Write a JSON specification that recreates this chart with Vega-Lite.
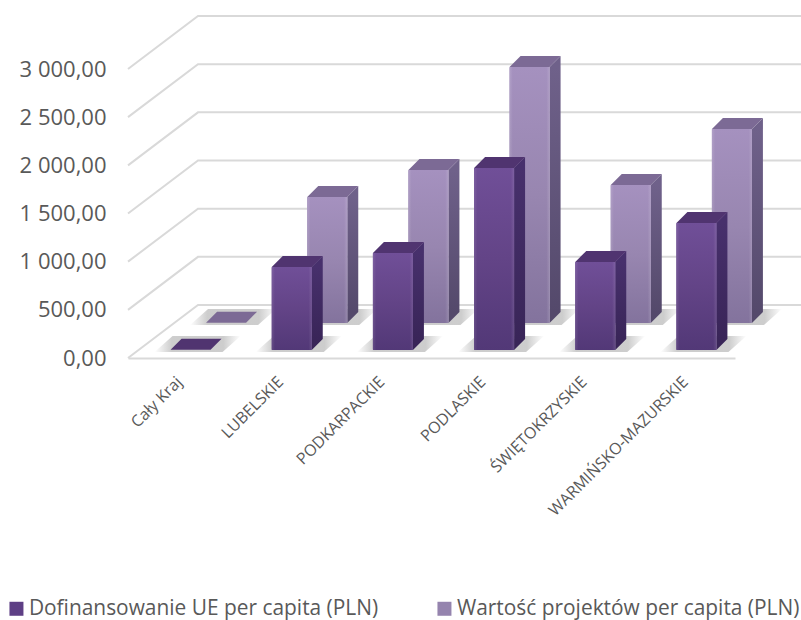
{
"$schema":"https://vega.github.io/schema/vega-lite/v6.json",
"autosize":{"type":"none"},
"padding":{"left":128,"top":69,"right":66,"bottom":262},
"width":607,"height":289,
"background":"#ffffff",
"config":{"view":{"stroke":null},"font":"Open Sans"},
"data":{"values":[
{"Region":"Cały Kraj","Seria":"Dofinansowanie UE per capita (PLN)","value":3},
{"Region":"LUBELSKIE","Seria":"Dofinansowanie UE per capita (PLN)","value":862},
{"Region":"PODKARPACKIE","Seria":"Dofinansowanie UE per capita (PLN)","value":1007},
{"Region":"PODLASKIE","Seria":"Dofinansowanie UE per capita (PLN)","value":1890},
{"Region":"ŚWIĘTOKRZYSKIE","Seria":"Dofinansowanie UE per capita (PLN)","value":914},
{"Region":"WARMIŃSKO-MAZURSKIE","Seria":"Dofinansowanie UE per capita (PLN)","value":1319},
{"Region":"Cały Kraj","Seria":"Wartość projektów per capita (PLN)","value":3},
{"Region":"LUBELSKIE","Seria":"Wartość projektów per capita (PLN)","value":1308},
{"Region":"PODKARPACKIE","Seria":"Wartość projektów per capita (PLN)","value":1589},
{"Region":"PODLASKIE","Seria":"Wartość projektów per capita (PLN)","value":2658},
{"Region":"ŚWIĘTOKRZYSKIE","Seria":"Wartość projektów per capita (PLN)","value":1433},
{"Region":"WARMIŃSKO-MAZURSKIE","Seria":"Wartość projektów per capita (PLN)","value":2015}
]},
"encoding":{
"x":{"field":"Region","type":"nominal","sort":null,"title":null,
"scale":{"type":"band","paddingInner":0,"paddingOuter":0,"domain":["Cały Kraj","LUBELSKIE","PODKARPACKIE","PODLASKIE","ŚWIĘTOKRZYSKIE","WARMIŃSKO-MAZURSKIE"]},
"axis":{"labelAngle":-45,"labelAlign":"right","labelBaseline":"middle","labelFontSize":16,"labelColor":"#595959","labelPadding":21,"labelOffset":1,"ticks":false,"domainColor":"#d9d9d9","domainWidth":2,"grid":false,"labelLimit":400}},
"y":{"field":"value","type":"quantitative","title":null,"stack":null,
"scale":{"domain":[0,3000],"nice":false},
"axis":{"values":[0,500,1000,1500,2000,2500,3000],"labelExpr":"replace(replace(format(datum.value,',.2f'),',',' '),'.',',')","labelFontSize":22,"labelColor":"#595959","labelPadding":22,"labelOffset":0,"ticks":false,"domain":false,"grid":false}}
},
"layer":[
{"data":{"values":[{"tick":0},{"tick":500},{"tick":1000},{"tick":1500},{"tick":2000},{"tick":2500},{"tick":3000}]},
 "mark":{"type":"point","shape":"M0,0L70,-53L680,-53","size":4,"filled":false,"stroke":"#d9d9d9","strokeWidth":2,"opacity":1},
 "encoding":{"x":{"datum":"Cały Kraj","bandPosition":0},"y":{"field":"tick","type":"quantitative"}}},
{"transform":[{"filter":"datum.Seria=='Wartość projektów per capita (PLN)'"}],
 "layer":[
 {"mark":{"type":"point","shape":"M-36,2L32,2L50,-14L-18,-14Z","size":4,"filled":true,"opacity":1,"xOffset":47.5,"yOffset":-35,"fill":{"gradient":"linear","x1":0,"y1":0,"x2":1,"y2":0,"stops":[{"offset":0,"color":"rgba(90,90,90,0)"},{"offset":0.2,"color":"rgba(90,90,90,0.3)"},{"offset":0.8,"color":"rgba(90,90,90,0.3)"},{"offset":1,"color":"rgba(90,90,90,0)"}]}},
  "encoding":{"y":{"datum":0}}},
 {"transform":[{"filter":"datum.value>100"}],
  "layer":[
  {"mark":{"type":"bar","width":11,"xOffset":73,"x2Offset":73,"yOffset":-35,"y2Offset":-46,"fill":{"gradient":"linear","x1":0,"y1":0,"x2":0,"y2":1,"stops":[{"offset":0,"color":"#6f618a"},{"offset":1,"color":"#54496b"}]}},
   "encoding":{"y2":{"datum":0}}},
  {"mark":{"type":"point","shape":"M20,0L31,-11L31,0Z","size":4,"filled":true,"opacity":1,"xOffset":47.5,"yOffset":-35,"fill":"#6f618a"}},
  {"mark":{"type":"point","shape":"M20,0L31,-11L20,-11Z","size":4,"filled":true,"opacity":1,"xOffset":47.5,"yOffset":-35,"fill":"#54496b"},
   "encoding":{"y":{"datum":0}}}
  ]},
 {"transform":[{"filter":"datum.value>100"}],
  "layer":[
  {"mark":{"type":"bar","width":40,"xOffset":47.5,"x2Offset":47.5,"yOffset":-35,"y2Offset":-35},
   "encoding":{"y2":{"datum":0},"color":{"field":"Seria","type":"nominal","title":null,
     "scale":{"domain":["Dofinansowanie UE per capita (PLN)","Wartość projektów per capita (PLN)"],"range":["#5e3f85","#9584ae"]},
     "legend":{"orient":"none","legendX":-122,"legendY":529,"direction":"horizontal","columns":2,"columnPadding":55,"labelFontSize":20.9,"labelColor":"#595959","labelLimit":500,"symbolType":"square","symbolSize":196,"symbolStrokeWidth":0,"labelOffset":2}}}},
  {"mark":{"type":"bar","width":40,"cornerRadius":1,"xOffset":47.5,"x2Offset":47.5,"yOffset":-35,"y2Offset":-35,"fill":{"gradient":"linear","x1":0,"y1":0,"x2":0,"y2":1,"stops":[{"offset":0,"color":"#a591bf"},{"offset":0.5,"color":"#9886b0"},{"offset":1,"color":"#83739d"}]}},
   "encoding":{"y2":{"datum":0}}},
  {"mark":{"type":"bar","width":40,"xOffset":47.5,"x2Offset":47.5,"yOffset":-35,"y2Offset":-35,"fill":{"gradient":"linear","x1":0,"y1":0,"x2":1,"y2":0,"stops":[{"offset":0,"color":"rgba(255,255,255,0.14)"},{"offset":0.08,"color":"rgba(255,255,255,0)"},{"offset":0.92,"color":"rgba(255,255,255,0)"},{"offset":1,"color":"rgba(255,255,255,0.14)"}]}},
   "encoding":{"y2":{"datum":0}}}
  ]},
 {"mark":{"type":"point","shape":"M-20,0L20,0L31,-11L-9,-11Z","size":4,"filled":true,"opacity":1,"xOffset":47.5,"yOffset":-35,"fill":"#7c6a95"}}
 ]},
{"transform":[{"filter":"datum.Seria=='Dofinansowanie UE per capita (PLN)'"}],
 "layer":[
 {"mark":{"type":"point","shape":"M-36,2L32,2L50,-14L-18,-14Z","size":4,"filled":true,"opacity":1,"xOffset":12,"yOffset":-8,"fill":{"gradient":"linear","x1":0,"y1":0,"x2":1,"y2":0,"stops":[{"offset":0,"color":"rgba(90,90,90,0)"},{"offset":0.2,"color":"rgba(90,90,90,0.3)"},{"offset":0.8,"color":"rgba(90,90,90,0.3)"},{"offset":1,"color":"rgba(90,90,90,0)"}]}},
  "encoding":{"y":{"datum":0}}},
 {"transform":[{"filter":"datum.value>100"}],
  "layer":[
  {"mark":{"type":"bar","width":11,"xOffset":37.5,"x2Offset":37.5,"yOffset":-8,"y2Offset":-19,"fill":{"gradient":"linear","x1":0,"y1":0,"x2":0,"y2":1,"stops":[{"offset":0,"color":"#47306c"},{"offset":1,"color":"#392558"}]}},
   "encoding":{"y2":{"datum":0}}},
  {"mark":{"type":"point","shape":"M20,0L31,-11L31,0Z","size":4,"filled":true,"opacity":1,"xOffset":12,"yOffset":-8,"fill":"#47306c"}},
  {"mark":{"type":"point","shape":"M20,0L31,-11L20,-11Z","size":4,"filled":true,"opacity":1,"xOffset":12,"yOffset":-8,"fill":"#392558"},
   "encoding":{"y":{"datum":0}}}
  ]},
 {"transform":[{"filter":"datum.value>100"}],
  "layer":[
  {"mark":{"type":"bar","width":40,"xOffset":12,"x2Offset":12,"yOffset":-8,"y2Offset":-8},
   "encoding":{"y2":{"datum":0},"color":{"field":"Seria","type":"nominal","title":null,
     "scale":{"domain":["Dofinansowanie UE per capita (PLN)","Wartość projektów per capita (PLN)"],"range":["#5e3f85","#9584ae"]},
     "legend":{"orient":"none","legendX":-122,"legendY":529,"direction":"horizontal","columns":2,"columnPadding":55,"labelFontSize":20.9,"labelColor":"#595959","labelLimit":500,"symbolType":"square","symbolSize":196,"symbolStrokeWidth":0,"labelOffset":2}}}},
  {"mark":{"type":"bar","width":40,"cornerRadius":1,"xOffset":12,"x2Offset":12,"yOffset":-8,"y2Offset":-8,"fill":{"gradient":"linear","x1":0,"y1":0,"x2":0,"y2":1,"stops":[{"offset":0,"color":"#704f98"},{"offset":0.5,"color":"#634487"},{"offset":1,"color":"#523877"}]}},
   "encoding":{"y2":{"datum":0}}},
  {"mark":{"type":"bar","width":40,"xOffset":12,"x2Offset":12,"yOffset":-8,"y2Offset":-8,"fill":{"gradient":"linear","x1":0,"y1":0,"x2":1,"y2":0,"stops":[{"offset":0,"color":"rgba(255,255,255,0.1)"},{"offset":0.08,"color":"rgba(255,255,255,0)"},{"offset":0.92,"color":"rgba(255,255,255,0)"},{"offset":1,"color":"rgba(255,255,255,0.1)"}]}},
   "encoding":{"y2":{"datum":0}}}
  ]},
 {"mark":{"type":"point","shape":"M-20,0L20,0L31,-11L-9,-11Z","size":4,"filled":true,"opacity":1,"xOffset":12,"yOffset":-8,"fill":"#503470"}}
 ]}
]
}
